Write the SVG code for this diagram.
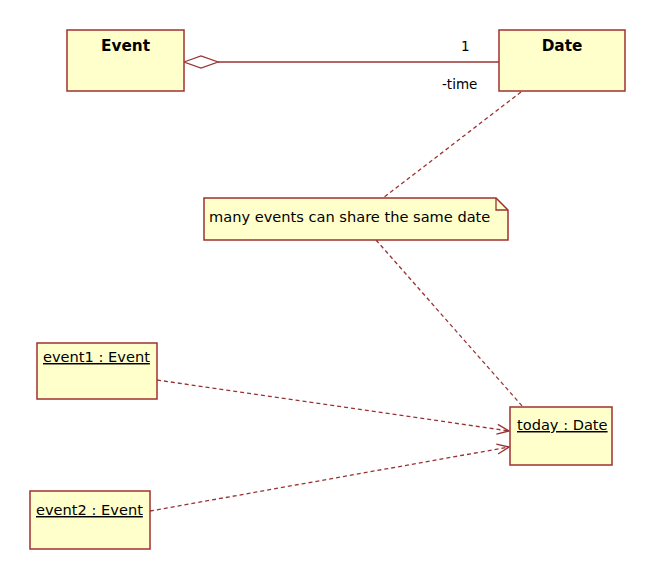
<svg xmlns="http://www.w3.org/2000/svg" width="656" height="581" viewBox="0 0 656 581">
<style>
.box{fill:#ffffcc;stroke:#a03030;stroke-width:1.5}
.t{font-family:"DejaVu Sans","Liberation Sans",sans-serif;font-size:14.6px;fill:#000}
.s{font-size:13.5px}
.b{font-family:"DejaVu Sans","Liberation Sans",sans-serif;font-size:15.3px;font-weight:bold;fill:#000}
.u{text-decoration:underline}
.ln{fill:none;stroke:#993333;stroke-width:1.3}
.d{stroke-dasharray:4,3}
</style>
<defs>
<marker id="open" markerWidth="14" markerHeight="12" refX="13" refY="6" orient="auto" markerUnits="userSpaceOnUse">
<path d="M1,1 L13,6 L1,11" fill="none" stroke="#993333" stroke-width="1.3"/>
</marker>
</defs>
<rect width="656" height="581" fill="#fff"/>
<g id="connectors">
<polygon points="184,62 201,56 218,62 201,68" fill="#fff" stroke="#993333" stroke-width="1.3"/>
<line class="ln" x1="218" y1="62" x2="499" y2="62"/>
<text class="t s" x="461" y="51">1</text>
<text class="t s" x="442" y="89">-time</text>
<line class="ln d" x1="521" y1="92" x2="383" y2="198"/>
<line class="ln d" x1="376" y1="240" x2="523" y2="407"/>
<line class="ln d" x1="157" y1="380" x2="509" y2="431" marker-end="url(#open)"/>
<line class="ln d" x1="150" y1="511" x2="509" y2="447" marker-end="url(#open)"/>
</g>
<g id="Event">
<rect class="box" x="67" y="30" width="117" height="61"/>
<text class="b" x="125.5" y="51" text-anchor="middle">Event</text>
</g>
<g id="Date">
<rect class="box" x="499" y="30" width="126" height="61"/>
<text class="b" x="562" y="51" text-anchor="middle">Date</text>
</g>
<g id="note">
<path class="box" d="M204,198 H496 L508,210 V240 H204 Z"/>
<path class="ln" d="M496,198 V210 H508"/>
<text class="t" x="209" y="222">many events can share the same date</text>
</g>
<g id="event1">
<rect class="box" x="37" y="343" width="120" height="56"/>
<text class="t u" x="43" y="362">event1 : Event</text>
</g>
<g id="event2">
<rect class="box" x="30" y="491" width="120" height="58"/>
<text class="t u" x="36" y="515">event2 : Event</text>
</g>
<g id="today">
<rect class="box" x="510" y="407" width="102" height="58"/>
<text class="t u" x="517" y="430">today : Date</text>
</g>
</svg>
